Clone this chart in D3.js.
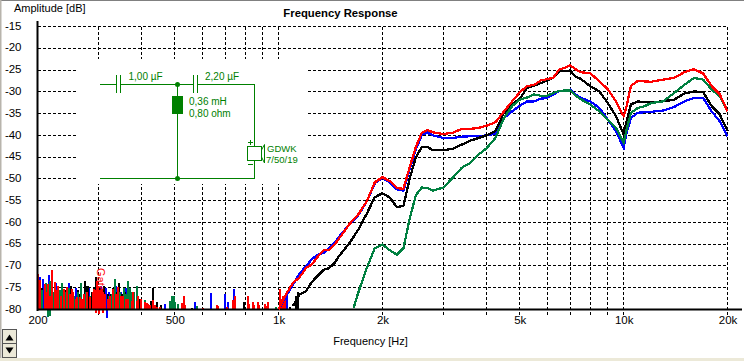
<!DOCTYPE html>
<html>
<head>
<meta charset="utf-8">
<script src="https://cdn.jsdelivr.net/npm/d3@7"></script>
<style>
  html, body { margin: 0; padding: 0; background: #fff; }
  svg { display: block; }
  text { font-family: "Liberation Sans", sans-serif; }
</style>
</head>
<body>
<svg id="chart" width="744" height="361"></svg>
<script>
// axis values
const yTicks = [-15, -20, -25, -30, -35, -40, -45, -50, -55, -60, -65, -70, -75, -80];
const xGrid = [300, 400, 500, 600, 700, 800, 900, 1000, 2000, 3000, 4000, 5000, 6000, 7000, 8000, 9000, 10000, 20000];
const xTickValues = [200, 500, 1000, 2000, 5000, 10000, 20000];
const xTickLabels = ['200', '500', '1k', '2k', '5k', '10k', '20k'];

// main curves
const redFreq = [1000, 1050, 1100, 1150, 1200, 1250, 1300, 1350, 1400, 1450, 1500, 1600, 1700, 1800, 1900, 2000, 2100, 2200, 2300, 2400, 2500, 2600, 2700, 2800, 3000, 3200, 3400, 3600, 3800, 4000, 4250, 4500, 4750, 5000, 5250, 5500, 5750, 6000, 6250, 6500, 6750, 7000, 7250, 7500, 8000, 8500, 9000, 9500, 10000, 10200, 10500, 11000, 11500, 12000, 13000, 14000, 15000, 16000, 17000, 18000, 19000, 20000];
const redDb = [-80, -76.5, -73.9, -72.6, -70.5, -69.6, -67.8, -66.4, -66.3, -65.2, -63.6, -60.5, -58.2, -55.2, -50.8, -49.6, -50.5, -52.1, -52.3, -47.2, -42.6, -39.4, -38.8, -39.3, -39.7, -39.4, -38.5, -38.5, -38.3, -37.8, -37, -34.5, -32.2, -30.1, -28.7, -28.4, -27.4, -27.1, -26.8, -24.9, -24.5, -23.9, -24.8, -25.5, -25.7, -27.6, -29.4, -32.2, -35.6, -33.3, -28.6, -27.5, -27.6, -27.7, -27.2, -26.8, -25.5, -24.8, -25.8, -28.7, -30.6, -34.5];

const blueFreq = redFreq;
const blueDb = [-80, -77, -74.3, -71.7, -70.1, -68.4, -67.4, -67, -65.9, -64.8, -63.2, -60.5, -58.4, -55.2, -51, -49.8, -50.8, -52.4, -52.7, -47.6, -43.2, -39.9, -39.4, -40, -40.6, -40.6, -40.3, -40.2, -40.2, -40, -39.6, -36, -34.5, -33.2, -32.2, -32.2, -31.6, -31.4, -30.6, -29.9, -29.7, -29.5, -30.6, -31.4, -32.2, -33.7, -36.4, -39, -42.9, -39.4, -36, -34.8, -34.7, -34.6, -34.3, -33.5, -32.2, -31.4, -31.4, -34.5, -36.8, -40.2];

const blackFreq = [1100, 1150, 1200, 1250, 1300, 1350, 1400, 1450, 1500, 1600, 1700, 1800, 1900, 2000, 2100, 2200, 2300, 2400, 2500, 2600, 2700, 2800, 3000, 3200, 3400, 3600, 3800, 4000, 4250, 4500, 4750, 5000, 5250, 5500, 5750, 6000, 6250, 6500, 6750, 7000, 7250, 7500, 8000, 8500, 9000, 9500, 10000, 10200, 10500, 11000, 11500, 12000, 13000, 14000, 15000, 16000, 17000, 18000, 19000, 20000];
const blackDb = [-79.2, -76.6, -75.8, -73.6, -72.2, -70.9, -70.5, -69.4, -67.6, -64.9, -61.7, -58, -54.2, -53.3, -54.3, -56.5, -56.2, -49.8, -45, -42.7, -42.7, -43.4, -43.4, -43.1, -42.1, -41.2, -40.6, -40, -39, -34.8, -32.9, -31.6, -29.1, -28.6, -28, -27.4, -26.8, -25.3, -25.3, -25.1, -26.5, -27, -28.7, -29.9, -32.6, -35.6, -39.8, -36.8, -32.9, -32.2, -32.4, -32.4, -32.2, -31.8, -30.4, -29.9, -30.1, -33.3, -35.2, -39];

const greenFreq = [1650, 1700, 1800, 1900, 2000, 2100, 2200, 2300, 2400, 2500, 2600, 2700, 2800, 3000, 3200, 3400, 3600, 3800, 4000, 4250, 4500, 4750, 5000, 5250, 5500, 5750, 6000, 6250, 6500, 6750, 7000, 7250, 7500, 8000, 8500, 9000, 9500, 10000, 10200, 10500, 11000, 11500, 12000, 13000, 14000, 15000, 16000, 17000, 18000, 19000, 20000];
const greenDb = [-79.6, -76.2, -70.5, -65.9, -65.1, -66.4, -67.4, -65.9, -59, -53.7, -52, -52.1, -52.7, -52, -49.7, -47.4, -46.3, -44.4, -43, -40.6, -36, -33.3, -31.8, -31.3, -30.6, -30.9, -30.9, -30.3, -29.8, -29.7, -29.7, -30.8, -31.7, -32.9, -34.5, -36.4, -38.3, -41.7, -38.7, -34.8, -33.7, -33.3, -32.6, -32.2, -30.3, -28.4, -26.8, -27.2, -29.5, -31, -34.5];

// noise floor spikes below 1k, each one rises from -80 dB
const redSpikeFreq = [200, 204, 210, 214, 221, 225, 230, 238, 243, 252, 254, 260, 265, 272, 278, 284, 291, 297, 300, 307, 314, 325, 332, 343, 354, 367, 379, 392, 400, 410, 418, 425, 433, 445, 452, 530, 604, 664, 738, 745, 816, 844, 872, 914, 932, 1010, 1025, 212, 218, 227, 234, 248, 258, 270, 289, 294, 303, 310, 320, 338, 349, 362, 375, 388, 415, 438, 526, 534, 668, 708, 742, 820, 850, 878, 918, 1030, 1040];
const redSpikeDb = [-71.8, -73.3, -74.1, -74.1, -71, -73.7, -74.5, -75.3, -74.9, -75.3, -76, -77.2, -77.2, -76.4, -76, -77.2, -75.3, -73.4, -74.5, -75.3, -76.4, -76.8, -75.3, -74.9, -76.8, -77.6, -76, -76.8, -77.6, -78.3, -78.7, -79, -77.9, -79.5, -79.5, -76.8, -79.7, -79, -77.9, -76.8, -76.8, -78.3, -78.3, -78.7, -78.3, -75.3, -77.6, -76, -77, -75.5, -77, -76.5, -77.5, -77.5, -76, -75.5, -75.5, -76, -77.5, -76.5, -77, -77.5, -78, -78, -78.5, -79, -78.5, -79, -79.3, -79.5, -78.8, -78.8, -79, -79, -79.2, -77, -77.5];
const blueSpikeFreq = [203, 208, 216, 226, 235, 247, 258, 268, 282, 294, 305, 316, 323, 338, 349, 362, 374, 469, 573, 637, 700, 712, 743, 1059, 1045, 1020];
const blueSpikeDb = [-72.5, -73, -72, -74, -75.5, -74, -75, -76.5, -75, -75.5, -74.5, -75, -76, -74.5, -76, -75, -76.5, -78.7, -78.3, -76.2, -76.5, -78.3, -75.3, -76.2, -77.5, -79];
const blackSpikeFreq = [206, 220, 240, 250, 262, 274, 280, 287, 296, 303, 312, 320, 330, 345, 358, 372, 433, 445, 455, 562, 794, 244, 266, 277, 292, 308, 326, 340, 352, 380, 395, 428, 1080, 1120, 1135];
const blackSpikeDb = [-75, -76, -75.5, -74.5, -75.5, -73.5, -74.5, -76, -72.5, -75, -74.5, -76.5, -75, -74, -76, -75.5, -75, -78.3, -79, -79.6, -78.3, -76, -76.5, -74.5, -75, -75.5, -76.5, -76, -76.5, -77, -77.5, -78, -79.5, -77, -76];
const greenSpikeFreq = [212, 218, 228, 236, 246, 256, 268, 276, 290, 310, 328, 336, 347, 356, 365, 377, 388, 410, 485, 490, 496, 501, 510, 578, 930, 985, 206, 214, 222, 232, 240, 252, 262, 284, 322, 342, 360, 372, 382];
const greenSpikeDb = [-74, -73.5, -75.5, -74, -75, -77, -74, -76, -76.5, -76, -76.5, -73, -76, -75, -73.5, -76, -74.5, -77.9, -78, -76.8, -76.8, -78.3, -78.7, -79.1, -79.7, -79.5, -75.5, -75, -76, -75.5, -76, -76.5, -76, -77, -77, -75, -76.5, -75, -76];

// the few spikes that drop under the floor
const dipFreq = [214, 218, 295, 302, 310, 317];
const dipDb = [-81.8, -81.6, -80.9, -81, -80.9, -81.9];
const dipColor = ['#008040', '#008040', '#ff0000', '#ff0000', '#ff0000', '#0000ff'];

const svg = d3.select('#chart');
const x = d3.scaleLog().domain([200, 20000]).range([37.5, 727.5]);
const y = d3.scaleLinear().domain([-15, -80]).range([26.5, 309.5]);

// window chrome
svg.append('rect').attr('width', 744).attr('height', 1).attr('fill', '#808080');
svg.append('rect').attr('width', 1.5).attr('height', 361).attr('fill', '#b8b4ac');
svg.append('rect').attr('y', 358).attr('width', 744).attr('height', 3).attr('fill', '#ece9d8');

// grid
const grid = svg.append('g').attr('stroke', '#000').attr('stroke-dasharray', '3,2').attr('shape-rendering', 'crispEdges');
yTicks.slice(0, -1).forEach(v => {
  grid.append('line').attr('x1', x(200)).attr('x2', x(20000)).attr('y1', y(v)).attr('y2', y(v));
});
xGrid.forEach(f => {
  grid.append('line').attr('x1', x(f)).attr('x2', x(f)).attr('y1', y(-15)).attr('y2', 315);
});

// axes
const yAxis = d3.axisLeft(y).tickValues(yTicks).tickSize(0).tickPadding(16).tickFormat(d => d);
const yG = svg.append('g').attr('transform', 'translate(37.5,-1)').call(yAxis);
yG.select('.domain').remove();
yG.selectAll('text').attr('font-size', 11.5).attr('fill', '#000').attr('font-family', '"Liberation Sans", sans-serif');

const xAxis = d3.axisBottom(x).tickValues(xTickValues).tickSize(0).tickPadding(6).tickFormat((d, i) => xTickLabels[i]);
const xG = svg.append('g').attr('transform', 'translate(0,309.5)').call(xAxis);
xG.select('.domain').remove();
xG.selectAll('text').attr('font-size', 11.5).attr('fill', '#000').attr('font-family', '"Liberation Sans", sans-serif');

// noise spikes, blue first and red on top like the curves
const spikeSets = [
  [blueSpikeFreq, blueSpikeDb, '#0000ff'],
  [blackSpikeFreq, blackSpikeDb, '#000'],
  [greenSpikeFreq, greenSpikeDb, '#008040'],
  [redSpikeFreq, redSpikeDb, '#ff0000']
];
const spikes = svg.append('g').attr('stroke-width', 2).attr('shape-rendering', 'crispEdges');
spikeSets.forEach(set => {
  set[0].forEach((f, i) => {
    spikes.append('line').attr('x1', x(f)).attr('x2', x(f)).attr('y1', y(-80)).attr('y2', y(set[1][i])).attr('stroke', set[2]);
  });
});
dipFreq.forEach((f, i) => {
  spikes.append('line').attr('x1', x(f)).attr('x2', x(f)).attr('y1', y(-80)).attr('y2', y(dipDb[i])).attr('stroke', dipColor[i]);
});

// thick axis lines
svg.append('line').attr('x1', 37.5).attr('x2', 37.5).attr('y1', 21).attr('y2', 311).attr('stroke', '#000').attr('stroke-width', 2);
svg.append('line').attr('x1', 37).attr('x2', 742).attr('y1', y(-80)).attr('y2', y(-80)).attr('stroke', '#000').attr('stroke-width', 2);

// curves
const line = d3.line().x(d => x(d[0])).y(d => y(d[1]));
const curves = [
  [blueFreq, blueDb, '#0000ff'],
  [blackFreq, blackDb, '#000'],
  [greenFreq, greenDb, '#008040'],
  [redFreq, redDb, '#ff0000']
];
curves.forEach(c => {
  svg.append('path')
    .datum(d3.zip(c[0], c[1]))
    .attr('d', line)
    .attr('fill', 'none')
    .attr('stroke', c[2])
    .attr('stroke-width', 2.3)
    .attr('shape-rendering', 'crispEdges');
});

// rotated red marker text in the noise
svg.append('text').attr('transform', 'translate(97,268) rotate(90)')
  .attr('font-size', 11).attr('fill', '#ff0000').text('Gate');

// crossover schematic
const sch = svg.append('g');
sch.append('rect').attr('x', 78).attr('y', 59).attr('width', 229).attr('height', 125).attr('fill', '#fff');
const green = '#008000';
const wires = [
  [100, 84.5, 116, 84.5], [120.5, 84.5, 193.5, 84.5], [197.5, 84.5, 254.5, 84.5],
  [116, 75, 116, 93], [120.5, 75, 120.5, 93], [193.5, 75, 193.5, 93], [197.5, 75, 197.5, 93],
  [177.5, 84.5, 177.5, 178.5], [100, 178.5, 254.5, 178.5],
  [254.5, 84.5, 254.5, 146], [254.5, 161, 254.5, 178.5],
  [248, 142.5, 253, 142.5], [250.5, 140, 250.5, 145], [248, 164, 253, 164]
];
wires.forEach(w => {
  sch.append('line').attr('x1', w[0]).attr('y1', w[1]).attr('x2', w[2]).attr('y2', w[3])
    .attr('stroke', green).attr('shape-rendering', 'crispEdges');
});
[84.5, 178.5].forEach(cy => {
  sch.append('circle').attr('cx', 177.5).attr('cy', cy).attr('r', 2.5).attr('fill', green);
});
sch.append('rect').attr('x', 172).attr('y', 96).attr('width', 11).attr('height', 18).attr('fill', green);
sch.append('rect').attr('x', 247.5).attr('y', 146.5).attr('width', 14).attr('height', 14)
  .attr('fill', '#fff').attr('stroke', green).attr('shape-rendering', 'crispEdges');
sch.append('path').attr('d', 'M261.5,150L264.5,144.5V163L261.5,157').attr('fill', 'none').attr('stroke', green);
const schLabels = [
  ['1,00 µF', 128.5, 80, 10], ['2,20 µF', 205, 80, 10], ['0,36 mH', 189, 105, 10],
  ['0,80 ohm', 189, 117, 10], ['GDWK', 267, 152, 9.5], ['7/50/19', 266, 163, 9.5]
];
schLabels.forEach(l => {
  sch.append('text').attr('x', l[1]).attr('y', l[2]).attr('font-size', l[3]).attr('fill', green).text(l[0]);
});

// titles
svg.append('text').attr('x', 14).attr('y', 12).attr('font-size', 11).text('Amplitude [dB]');
svg.append('text').attr('x', 340.5).attr('y', 17).attr('text-anchor', 'middle').attr('font-size', 11.3).attr('font-weight', 'bold').text('Frequency Response');
svg.append('text').attr('x', 370.5).attr('y', 345).attr('text-anchor', 'middle').attr('font-size', 11).text('Frequency [Hz]');

// spin buttons
[[329, 'M5.5,340.5L9.5,334.5L13.5,340.5Z'], [343.5, 'M5.5,347.5L9.5,353.5L13.5,347.5Z']].forEach(b => {
  svg.append('rect').attr('x', 2.5).attr('y', b[0]).attr('width', 14).attr('height', 14).attr('fill', '#ece9d8').attr('stroke', '#555').attr('shape-rendering', 'crispEdges');
  svg.append('path').attr('d', b[1]).attr('fill', '#000');
});
</script>
</body>
</html>
